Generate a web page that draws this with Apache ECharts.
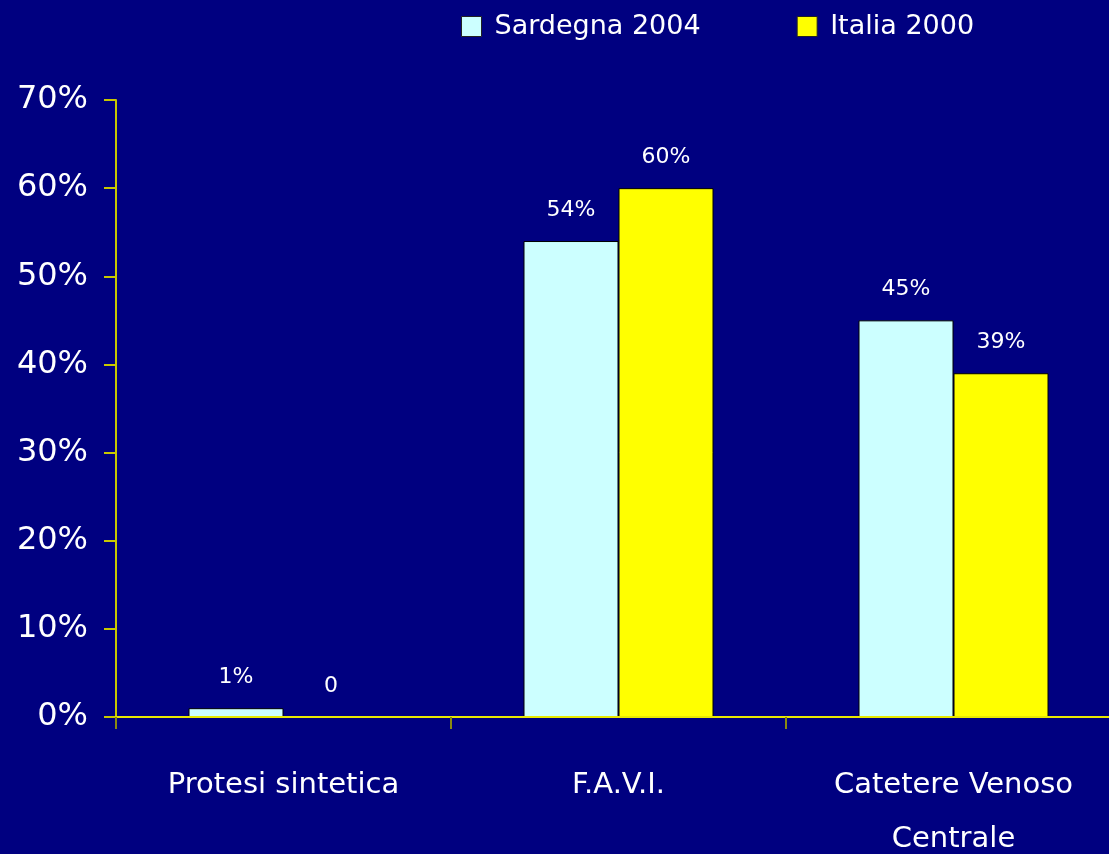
<!DOCTYPE html>
<html>
<head>
<meta charset="utf-8">
<script src="https://cdn.jsdelivr.net/npm/echarts@6/dist/echarts.min.js"></script>
<style>
  html, body { margin: 0; padding: 0; background: #000080; }
  #chart { width: 1109px; height: 854px; }
</style>
</head>
<body>
<div id="chart"></div>
<script>
var categories = ['Protesi sintetica', 'F.A.V.I.', 'Catetere Venoso\nCentrale'];
var sardegna = [1, 54, 45];
var italia = [0, 60, 39];
var yTicks = [0, 10, 20, 30, 40, 50, 60, 70];

var chart = echarts.init(document.getElementById('chart'));
var font = '"Comic Sans MS", "DejaVu Sans", sans-serif';

// etichette sopra le barre: lo zero resta "0"
function lbl(p) {
    return p.value === 0 ? '0' : p.value + '%';
}

// niente bordo sulle barre a zero
function barData(arr) {
    return arr.map(function (v) {
        return v === 0 ? { value: v, itemStyle: { borderWidth: 0 } } : v;
    });
}

var option = {
    backgroundColor: '#000080',
    textStyle: { fontFamily: font },
    legend: {
        top: 8,
        left: 456,
        icon: 'rect',
        itemWidth: 20,
        itemHeight: 20,
        itemGap: 96,
        textStyle: { color: '#ffffff', fontSize: 27, fontFamily: font, padding: [0, 0, 0, 8] },
        data: [
            { name: 'Sardegna 2004', itemStyle: { borderColor: '#222', borderWidth: 1 } },
            { name: 'Italia 2000', itemStyle: { borderColor: '#222', borderWidth: 1 } }
        ]
    },
    grid: { left: 116, top: 100, width: 1005, height: 617, outerBoundsMode: 'none', containLabel: false },
    xAxis: {
        type: 'category',
        data: categories,
        z: 5,
        axisLine: { lineStyle: { color: '#e8e800', width: 2 } },
        axisTick: { show: true, length: 12, lineStyle: { color: '#8a8a10', width: 2 } },
        axisLabel: {
            color: '#ffffff', fontSize: 29, fontFamily: font,
            margin: 41, lineHeight: 54, interval: 0
        }
    },
    yAxis: {
        type: 'value',
        min: yTicks[0],
        max: yTicks[yTicks.length - 1],
        interval: 10,
        splitLine: { show: false },
        axisLine: { show: true, lineStyle: { color: '#c8c800', width: 2 } },
        axisTick: { show: true, length: 12, lineStyle: { color: '#c8c800', width: 2 } },
        axisLabel: {
            color: '#ffffff', fontSize: 32, fontFamily: font, margin: 28,
            formatter: '{value}%'
        }
    },
    series: [
        {
            name: 'Sardegna 2004',
            type: 'bar',
            data: barData(sardegna),
            barWidth: 95,
            barGap: '0%',
            itemStyle: { color: '#ccffff', borderColor: '#000000', borderWidth: 1 },
            label: {
                show: true, position: 'top', distance: 20,
                color: '#ffffff', fontSize: 22, fontFamily: font, formatter: lbl
            }
        },
        {
            name: 'Italia 2000',
            type: 'bar',
            data: barData(italia),
            barWidth: 95,
            barGap: '0%',
            itemStyle: { color: '#ffff00', borderColor: '#000000', borderWidth: 1 },
            label: {
                show: true, position: 'top', distance: 20,
                color: '#ffffff', fontSize: 22, fontFamily: font, formatter: lbl
            }
        }
    ]
};

chart.setOption(option);
</script>
</body>
</html>
